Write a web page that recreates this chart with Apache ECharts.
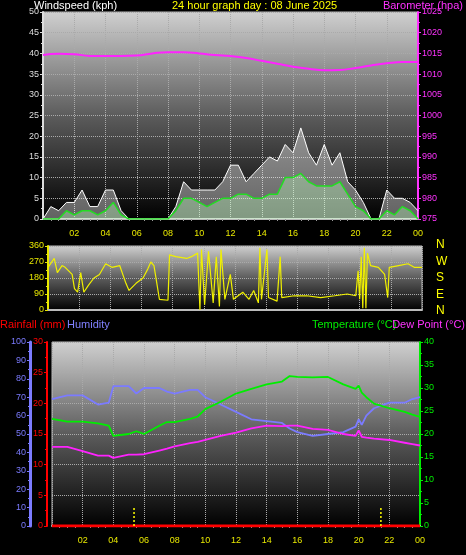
<!DOCTYPE html>
<html>
<head>
<meta charset="utf-8">
<script src="https://cdn.jsdelivr.net/npm/echarts@6/dist/echarts.min.js"></script>
<style>
html,body{margin:0;padding:0;background:#000;}
#chart{width:466px;height:555px;}
</style>
</head>
<body>
<div id="chart"></div>
<script>
// wind, half-hourly (hours 0..24)
var windHours = [0,0.5,1,1.5,2,2.5,3,3.5,4,4.5,5,5.5,6,6.5,7,7.5,8,8.5,9,9.5,10,10.5,11,11.5,12,12.5,13,13.5,14,14.5,15,15.5,16,16.5,17,17.5,18,18.5,19,19.5,20,20.5,21,21.5,22,22.5,23,23.5,24];
var windGust = [0,3,2,4,4,7,3,3,7,7,2,0,0,0,0,0,0,3,9,7,7,7,7,9,13,13,9,11,13,15,14,18,16,22,16,13,18,13,16,9,7,4,0,0,7,5,5,4,2];
var windAvg  = [0,0,0,2,1,2,2,1,2,4,1,0,0,0,0,0,0,2,5,5,4,3,4,5,5,6,6,5,5,6,6,10,10,11,9,8,8,8,9,6,3,2,0,0,2,1,3,2,0];

var baroHours = [0,1,2,3,4,5,6,7,8,9,10,11,12,13,14,15,16,17,18,19,20,21,22,23,24];
var baro = [1014.6,1014.9,1014.8,1014.4,1014.4,1014.4,1014.5,1015,1015.3,1015.3,1015,1014.6,1014.4,1013.9,1013.2,1012.5,1011.8,1011.3,1010.9,1011,1011.5,1012.1,1012.6,1012.9,1012.9];

var dirHours = [0,0.4,0.6,0.9,1.1,1.55,1.7,1.9,2.1,2.3,2.6,2.95,3.3,3.7,4.1,4.6,5.0,5.2,5.65,6.1,6.4,6.6,6.8,7.15,7.7,7.8,8.2,8.9,9.2,9.6,9.75,9.85,10.05,10.3,10.6,10.8,11.0,11.1,11.35,11.7,11.9,12.5,12.9,13.2,13.5,13.6,13.7,14.05,14.15,14.7,14.9,15.0,15.8,16.6,17.5,18.4,19.2,19.75,19.9,20.0,20.1,20.2,20.3,20.4,20.5,20.7,21.2,21.6,21.8,21.9,22.5,23.1,23.5,24];
var windDir = [240,290,210,250,240,200,120,100,210,100,140,180,200,260,240,250,150,110,150,180,230,270,250,60,55,310,300,290,300,320,0,340,30,330,40,300,20,340,60,200,60,100,60,110,40,350,60,340,70,50,300,70,80,80,70,80,90,80,220,60,300,10,350,10,320,250,240,200,70,240,250,260,240,240];
var dirLabels = ['N','W','S','E','N'];

var climHours = [0,1,2,3,3.7,4,5,5.5,6,7,7.5,8,9,9.5,10,11,12,13,14,15,15.5,16,17,18,19,19.8,20,20.2,20.5,21,22,23,23.5,24];
var humidity = [69,71,71,66,67,76,76,72,75,75,73,72,74,74,70,66,62,58,57,56,53,51,49,50,51,54,58,55,60,64,67,67,69,70];
var temperature = [23.3,22.7,22.7,22.3,21.8,19.6,20,20.6,20,21.8,22.6,22.6,23.3,23.8,25.4,27,28.8,29.8,30.8,31.4,32.6,32.4,32.3,32.4,30.8,29.8,30.5,29,28,26.6,25.6,24.8,24.2,23.7];
var dewPoint = [17.2,17.2,16.3,15.3,15.3,14.8,15.5,15.5,15.6,16.4,16.8,17.3,18,18.3,18.7,19.6,20.3,21.2,21.8,21.7,21.8,21.8,21.1,20.9,20,19.6,20.8,19.4,19.2,19,18.7,18.1,17.8,17.5];
var rainfall = [0,0,0,0,0,0,0,0,0,0,0,0,0,0,0,0,0,0,0,0,0,0,0,0,0,0,0,0,0,0,0,0,0,0];
var sunTimes = [5.35,21.45];

var hourLabels = ['','02','04','06','08','10','12','14','16','18','20','22','00'];

function pairs(xs, ys){
    var out=[];
    for(var i=0;i<xs.length;i++){ out.push([xs[i], ys[i]]); }
    return out;
}
function bg(){
    return new echarts.graphic.LinearGradient(0,0,0,1,[
        {offset:0,color:'#d0d0d0'},{offset:0.5,color:'#5c5c5c'},{offset:1,color:'#000000'}]);
}
var font = 'Liberation Sans';
function timeAxis(gi, showLabels){
    return {
        type:'value', gridIndex:gi, min:0, max:24, interval:2,
        axisLine:{show:true,onZero:false,lineStyle:{color:'#bbbbbb',width:2}},
        axisTick:{show:false},
        minorTick:{show:showLabels,splitNumber:4,length:2,lineStyle:{color:'#999'}},
        axisLabel:{show:showLabels,color:'#e8e800',fontSize:9,fontFamily:font,margin:10,
            formatter:function(v){return hourLabels[v/2];}},
        splitLine:{show:true,lineStyle:{color:'#aaaaaa',type:'dotted',width:1}}
    };
}
function valAxis(gi, pos, min, max, interval, color, offset, extra){
    var a = {
        type:'value', gridIndex:gi, position:pos, min:min, max:max, interval:interval, offset:offset||0,
        axisLine:{show:true,onZero:false,lineStyle:{color:color,width:2}},
        axisTick:{show:true,length:3,lineStyle:{color:color}},
        minorTick:{show:true,splitNumber:2,length:2,lineStyle:{color:color}},
        axisLabel:{color:color,fontSize:9,fontFamily:font,margin:4,formatter:function(v){return String(v);}},
        splitLine:{show:false}
    };
    for(var k in extra){ a[k]=extra[k]; }
    return a;
}
var sunLines = [];
for(var s=0;s<sunTimes.length;s++){
    sunLines.push({
        type:'line', xAxisIndex:2, yAxisIndex:4, symbol:'none', silent:true,
        data:[[sunTimes[s],0],[sunTimes[s],3]],
        lineStyle:{color:'#ffff00',width:1.5,type:[2,2]}
    });
}

var chart = echarts.init(document.getElementById('chart'));
var option = {
    backgroundColor:'#000',
    animation:false,
    textStyle:{fontFamily:font},
    grid:[
        {left:43,right:48,top:12,height:207,show:true,backgroundColor:bg(),borderColor:'#bbbbbb',borderWidth:1},
        {left:48,right:44,top:246,height:64,show:true,backgroundColor:bg(),borderColor:'#bbbbbb',borderWidth:1},
        {left:52,right:46,top:342,height:184,show:true,backgroundColor:bg(),borderColor:'#bbbbbb',borderWidth:1}
    ],
    xAxis:[timeAxis(0,true), timeAxis(1,false), timeAxis(2,true)],
    yAxis:[
        valAxis(0,'left',0,50,5,'#dddddd',0,{splitLine:{show:true,lineStyle:{color:'#aaaaaa',type:'dotted'}}}),
        valAxis(0,'right',975,1025,5,'#ff33ff',0),
        valAxis(1,'left',0,360,90,'#e8e800',0,{splitLine:{show:true,lineStyle:{color:'#aaaaaa',type:'dotted'}}}),
        valAxis(2,'left',0,100,10,'#7b7bff',22,{axisLine:{show:true,onZero:false,lineStyle:{color:'#7b7bff',width:3}}}),
        valAxis(2,'left',0,30,5,'#ff0000',5,{splitLine:{show:true,lineStyle:{color:'#aaaaaa',type:'dotted'}}}),
        valAxis(2,'right',0,40,5,'#00ee00',0)
    ],
    graphic:[
        {type:'text',left:34,top:0,style:{text:'Windspeed (kph)',fill:'#ffffff',font:'11px '+font}},
        {type:'text',left:172,top:0,style:{text:'24 hour graph day : 08 June 2025',fill:'#ffff00',font:'11px '+font}},
        {type:'text',right:3,top:0,style:{text:'Barometer (hpa)',fill:'#ff33ff',font:'11px '+font}},
        {type:'text',left:0,top:319,style:{text:'Rainfall (mm)',fill:'#ff0000',font:'11px '+font}},
        {type:'text',left:67,top:319,style:{text:'Humidity',fill:'#8080ff',font:'11px '+font}},
        {type:'text',left:312,top:319,style:{text:'Temperature (°C)',fill:'#00ee00',font:'11px '+font}},
        {type:'text',right:1,top:319,style:{text:'Dew Point (°C)',fill:'#ff33ff',font:'11px '+font}}
    ].concat(dirLabels.map(function(t,i){
        return {type:'text',left:436,top:239+i*16.5,style:{text:t,fill:'#ffff00',font:'12px '+font}};
    })),
    series:[
        {name:'Gust',type:'line',xAxisIndex:0,yAxisIndex:0,symbol:'none',
            data:pairs(windHours,windGust),
            lineStyle:{color:'#ffffff',width:1},areaStyle:{color:'rgba(255,255,255,0.55)'}},
        {name:'Average',type:'line',xAxisIndex:0,yAxisIndex:0,symbol:'none',
            data:pairs(windHours,windAvg),
            lineStyle:{color:'#22dd22',width:1.5},areaStyle:{color:'rgba(190,255,190,0.5)'}},
        {name:'Barometer',type:'line',xAxisIndex:0,yAxisIndex:1,symbol:'none',smooth:true,
            data:pairs(baroHours,baro),lineStyle:{color:'#ff22ff',width:2}},
        {name:'Direction',type:'line',xAxisIndex:1,yAxisIndex:2,symbol:'none',
            data:pairs(dirHours,windDir),lineStyle:{color:'#f0f000',width:1.2}},
        {name:'Humidity',type:'line',xAxisIndex:2,yAxisIndex:3,symbol:'none',
            data:pairs(climHours,humidity),lineStyle:{color:'#7b7bff',width:1.8}},
        {name:'Temperature',type:'line',xAxisIndex:2,yAxisIndex:5,symbol:'none',
            data:pairs(climHours,temperature),lineStyle:{color:'#00ee00',width:1.8}},
        {name:'Dew Point',type:'line',xAxisIndex:2,yAxisIndex:5,symbol:'none',
            data:pairs(climHours,dewPoint),lineStyle:{color:'#ff22ff',width:1.8}},
        {name:'Rainfall',type:'line',xAxisIndex:2,yAxisIndex:4,symbol:'none',
            data:pairs(climHours,rainfall),lineStyle:{color:'#ff0000',width:3}}
    ].concat(sunLines)
};
chart.setOption(option);
</script>
</body>
</html>
